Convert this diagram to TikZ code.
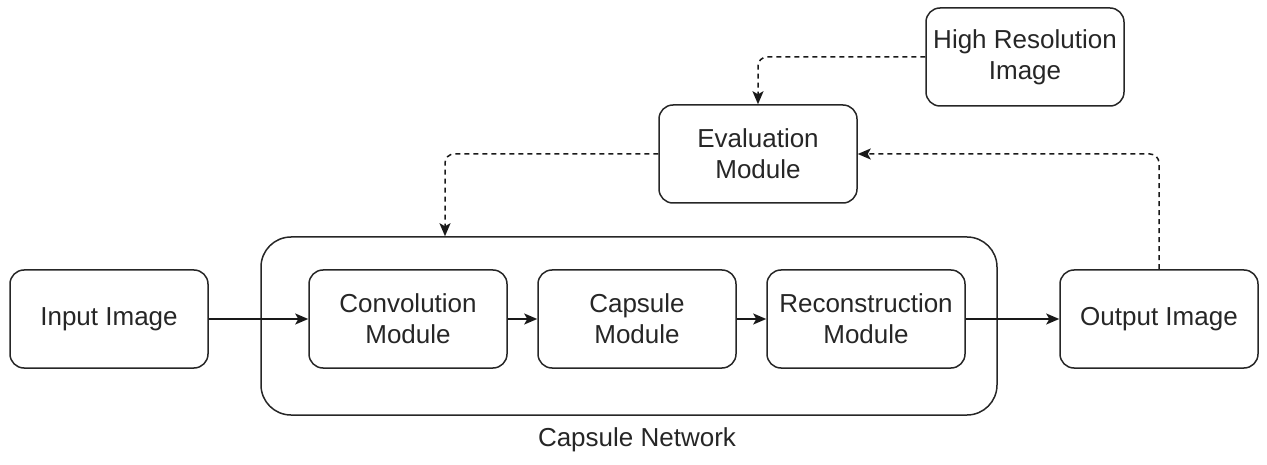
\documentclass[tikz,border=0pt]{standalone}
\usepackage{fontspec}
\setmainfont{Liberation Sans}
\usetikzlibrary{arrows.meta}
\begin{document}
\begin{tikzpicture}[x=1pt,y=-1pt,
  box/.style={draw=black!85, rounded corners=14pt, line width=1.5pt, minimum width=198pt, minimum height=98pt, align=center, inner sep=0pt, font=\fontsize{26}{31}\selectfont, text=black!85},
  bigbox/.style={draw=black!85, rounded corners=30pt, line width=1.5pt, minimum width=736pt, minimum height=178pt, inner sep=0pt},
  arr/.style={line width=1.5pt, draw=black!90, -{Stealth[length=13pt,width=11pt,inset=3pt]}},
  dasharr/.style={arr, dash pattern=on 5pt off 4pt, rounded corners=9pt}]
\useasboundingbox (0,0) rectangle (1267,465);
\node[bigbox] (net) at (629,326) {};
\node[box] (inp) at (109,319) {Input Image};
\node[box] (conv) at (408,319) {Convolution\\Module};
\node[box] (caps) at (637,319) {Capsule\\Module};
\node[box] (rec) at (866,319) {Reconstruction\\Module};
\node[box] (out) at (1159,319) {Output Image};
\node[box] (eval) at (758,154) {Evaluation\\Module};
\node[box] (hr) at (1025,57) {High Resolution\\Image};
\node[font=\fontsize{26}{31}\selectfont, text=black!85] (netlabel) at (637,440) {Capsule Network};
\draw[arr] (inp.east) -- (conv.west);
\draw[arr] (conv.east) -- (caps.west);
\draw[arr] (caps.east) -- (rec.west);
\draw[arr] (rec.east) -- (out.west);
\draw[dasharr] (hr.west) -| (eval.north);
\draw[dasharr] (eval.west) -| ([xshift=-184pt]net.north);
\draw[dasharr] (out.north) |- (eval.east);
\end{tikzpicture}
\end{document}
